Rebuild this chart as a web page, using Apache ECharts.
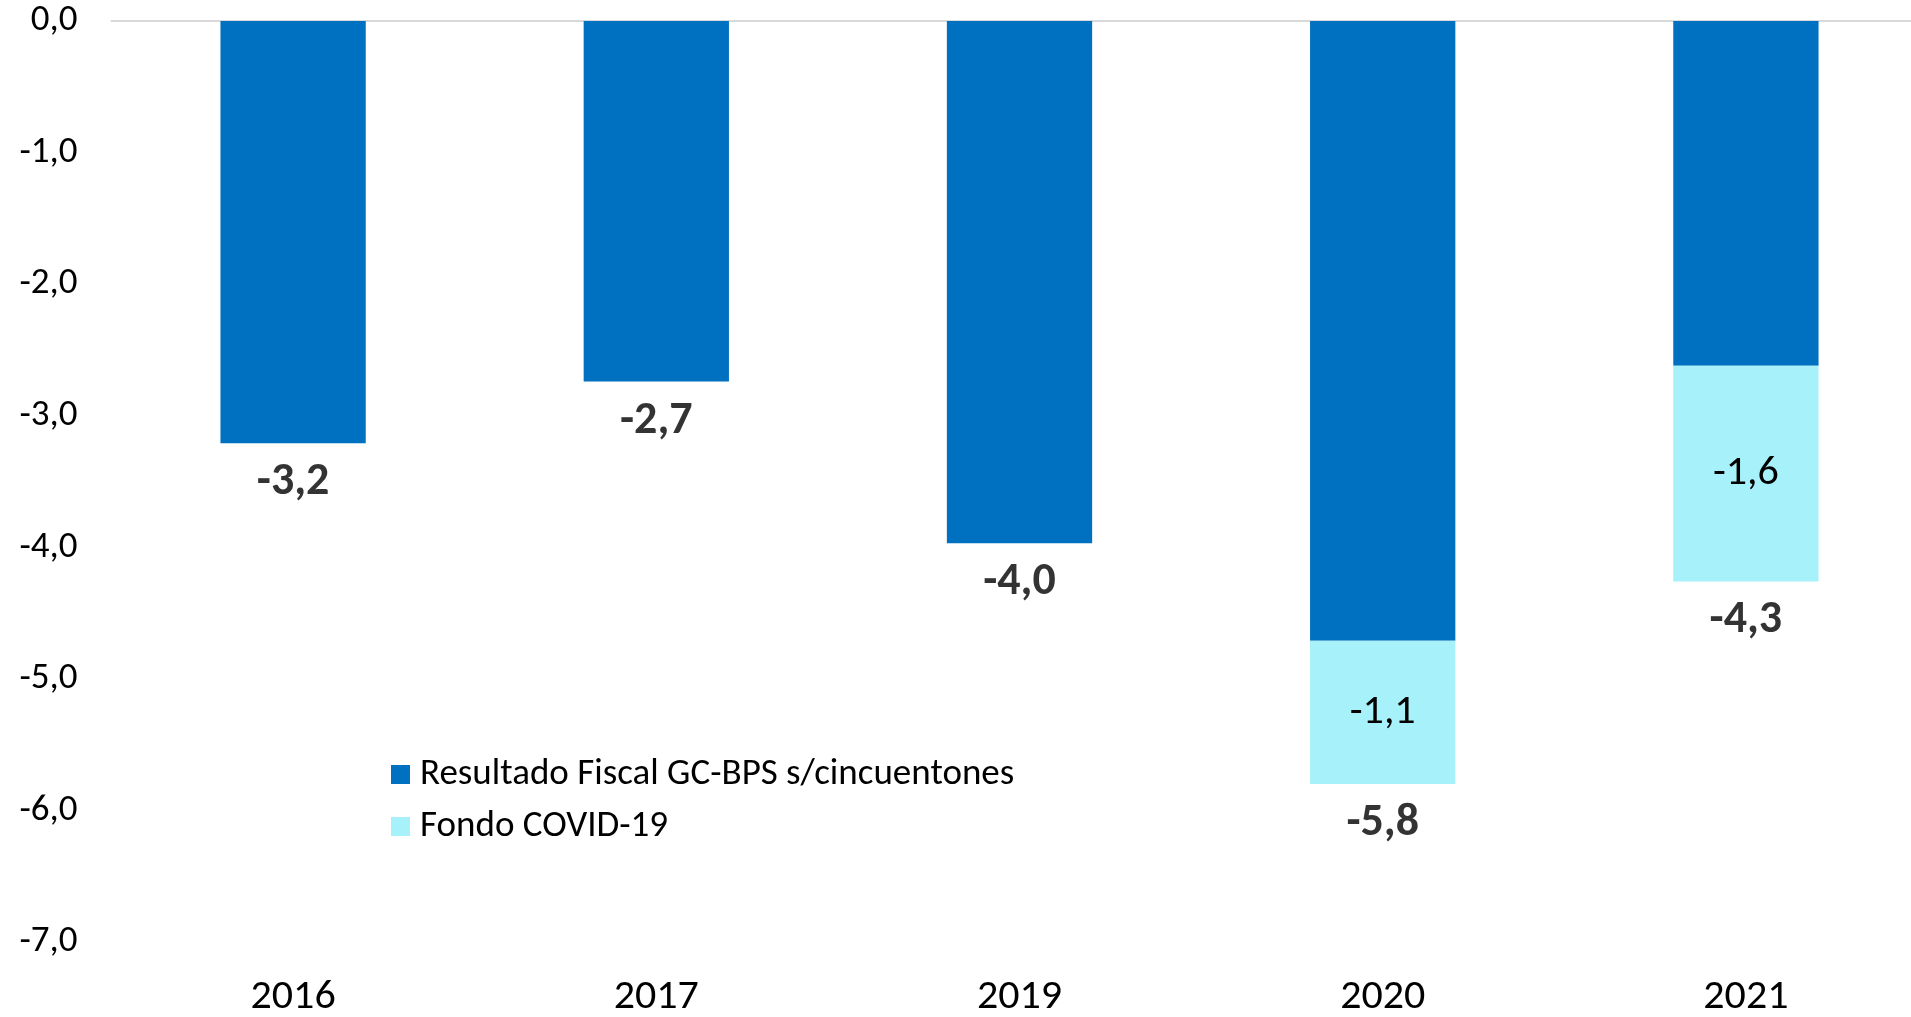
<!DOCTYPE html>
<html>
<head>
<meta charset="utf-8">
<script src="https://cdn.jsdelivr.net/npm/echarts@6/dist/echarts.min.js"></script>
<style>
  html, body { margin: 0; padding: 0; background: #fff; }
  #chart { width: 1911px; height: 1017px; }
</style>
</head>
<body>
<div id="chart"></div>
<script>
  // datos del gráfico
  var years = ['2016', '2017', '2019', '2020', '2021'];
  var resultado = [-3.21, -2.74, -3.97, -4.71, -2.62];
  var fondoCovid = [null, null, null, -1.09, -1.64];
  var yTicks = [-7, -6, -5, -4, -3, -2, -1, 0];

  var fmt = function (v) {
    return Number(v).toFixed(1).replace('.', ',');
  };

  // total por año (para la etiqueta en negrita bajo cada barra)
  var totales = years.map(function (y, i) {
    return resultado[i] + (fondoCovid[i] || 0);
  });

  var font = 'Carlito, Lato, sans-serif';

  var myChart = echarts.init(document.getElementById('chart'));
  var option = {
    animation: false,
    grid: { left: 111.5, right: -16.5, top: 21, bottom: 75, outerBoundsMode: 'none', containLabel: false },
    legend: {
      data: ['Resultado Fiscal GC-BPS s/cincuentones', 'Fondo COVID-19'],
      orient: 'vertical',
      left: 386,
      top: 751,
      icon: 'rect',
      itemWidth: 19,
      itemHeight: 19,
      itemGap: 15,
      textStyle: { fontFamily: font, fontSize: 37, color: '#000', lineHeight: 36, padding: [0, 0, 0, 5] }
    },
    xAxis: [
      {
        type: 'category',
        data: years,
        position: 'bottom',
        axisLine: { show: false, onZero: false },
        axisTick: { show: false },
        axisLabel: { fontFamily: font, fontSize: 42, color: '#000', margin: 34 }
      },
      {
        type: 'category',
        data: years,
        position: 'top',
        axisLine: { show: true, onZero: false, lineStyle: { color: '#D9D9D9', width: 2 } },
        axisTick: { show: false },
        axisLabel: { show: false }
      }
    ],
    yAxis: {
      type: 'value',
      min: yTicks[0],
      max: yTicks[yTicks.length - 1],
      interval: 1,
      splitLine: { show: false },
      axisLine: { show: false },
      axisTick: { show: false },
      axisLabel: { fontFamily: font, fontSize: 37, color: '#000', margin: 34, formatter: fmt }
    },
    series: [
      {
        name: 'Resultado Fiscal GC-BPS s/cincuentones',
        type: 'bar',
        stack: 'total',
        barWidth: '40%',
        data: resultado,
        itemStyle: { color: '#0070C0' }
      },
      {
        name: 'Fondo COVID-19',
        type: 'bar',
        stack: 'total',
        barWidth: '40%',
        data: fondoCovid,
        itemStyle: { color: '#A6F1FA' },
        label: {
          show: true,
          position: 'inside',
          fontFamily: font,
          fontSize: 42,
          color: '#000',
          formatter: function (p) { return fmt(p.value); }
        }
      },
      {
        name: 'total',
        type: 'scatter',
        data: totales,
        symbolSize: 1,
        itemStyle: { color: 'rgba(0,0,0,0)' },
        silent: true,
        label: {
          show: true,
          position: 'bottom',
          distance: 16,
          fontFamily: font,
          fontSize: 46,
          fontWeight: 'bold',
          color: '#000',
          formatter: function (p) { return fmt(p.value); }
        }
      }
    ]
  };
  myChart.setOption(option);
</script>
</body>
</html>
